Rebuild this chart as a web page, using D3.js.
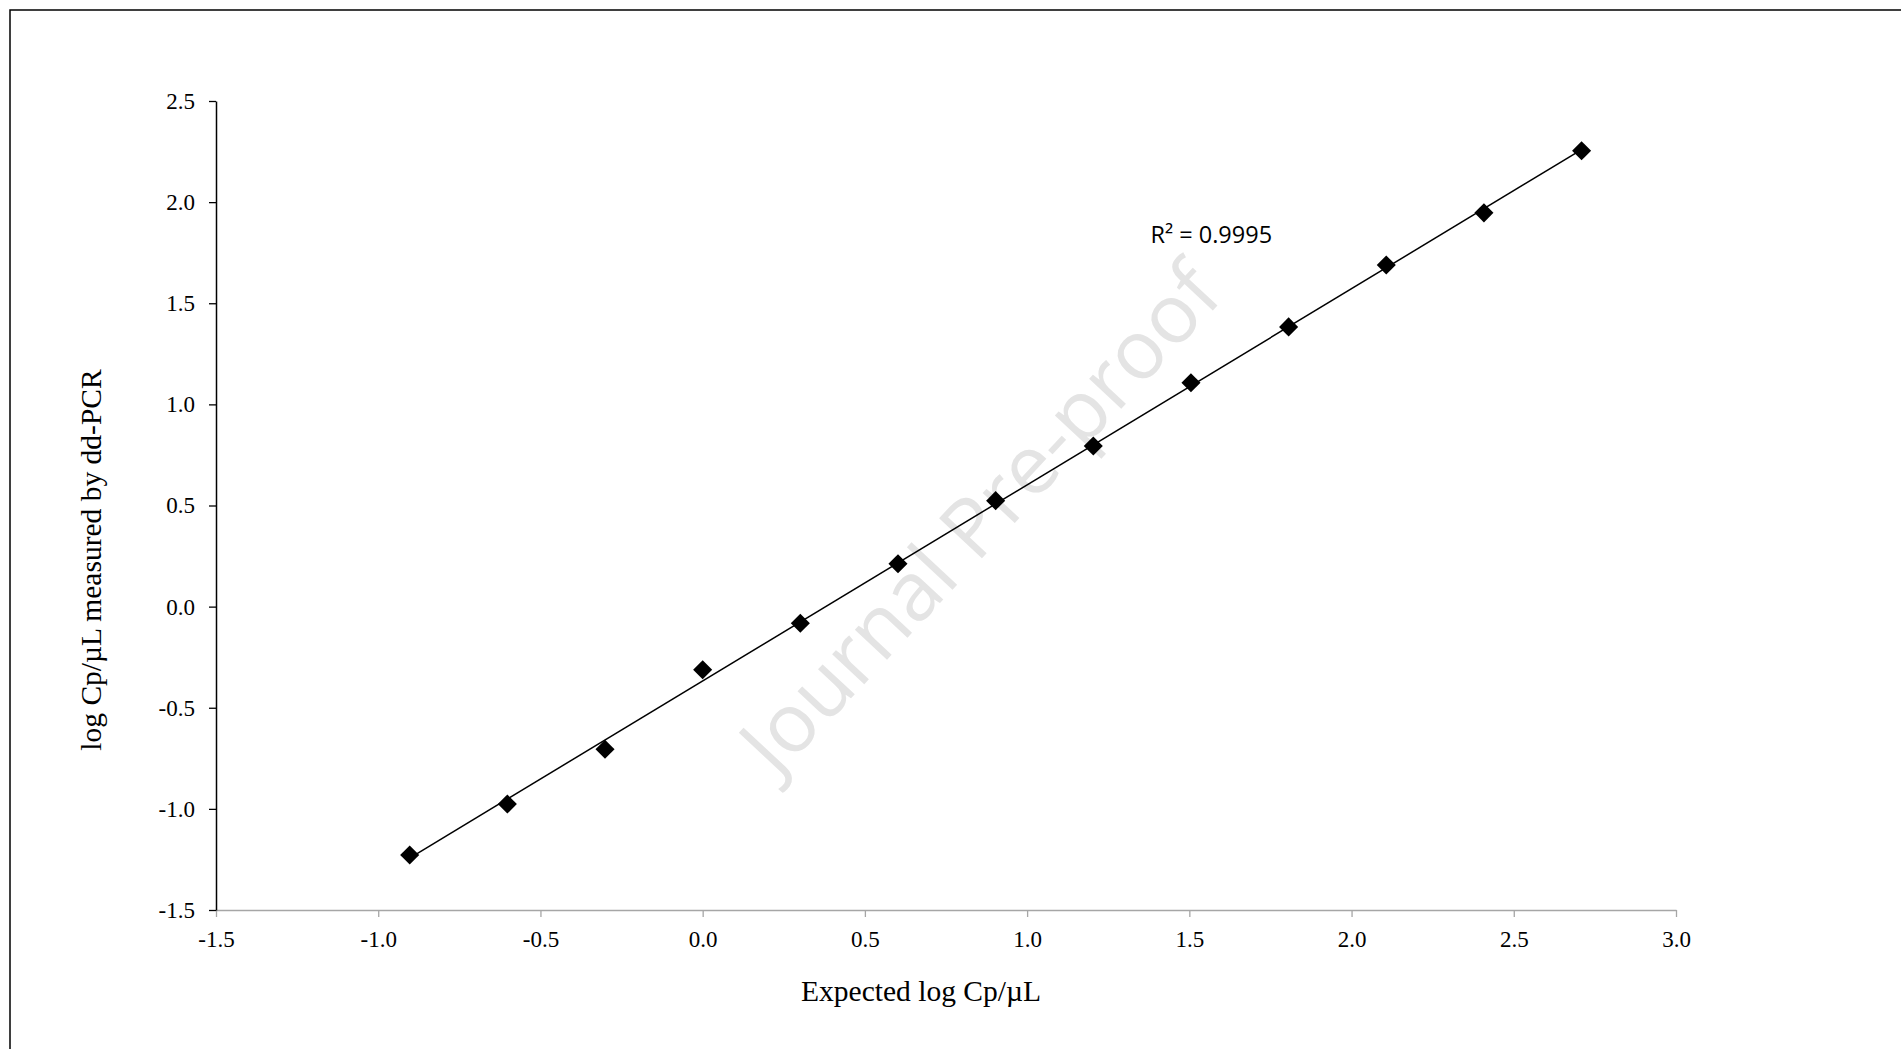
<!DOCTYPE html>
<html>
<head>
<meta charset="utf-8">
<script src="https://cdn.jsdelivr.net/npm/d3@7"></script>
<style>
    html, body { margin: 0; padding: 0; background: #fff; }
    svg { display: block; }
    .axis-title { font-family: "Liberation Serif", "Times New Roman", serif; font-size: 29.5px; fill: #000; }
    .r2 { font-family: "Open Sans", sans-serif; font-size: 23.5px; fill: #000; }
    .watermark { font-family: "Open Sans", sans-serif; font-size: 82px; fill: #e4e4e4; }
</style>
</head>
<body>
<div id="chart"></div>
<script>
// expected log copies per uL (2-fold dilution series)
var expected = [-0.903, -0.602, -0.301, 0.000, 0.301, 0.602, 0.903, 1.204, 1.505, 1.806, 2.107, 2.408, 2.709];
// log copies per uL measured by dd-PCR
var measured = [-1.228, -0.976, -0.705, -0.312, -0.082, 0.212, 0.524, 0.794, 1.107, 1.383, 1.689, 1.947, 2.254];

var xTicks = [-1.5, -1.0, -0.5, 0.0, 0.5, 1.0, 1.5, 2.0, 2.5, 3.0];
var yTicks = [-1.5, -1.0, -0.5, 0.0, 0.5, 1.0, 1.5, 2.0, 2.5];
var r2Label = 'R\u00B2 = 0.9995';

var width = 1901, height = 1049;
var margin = {left: 216, top: 101, right: 225, bottom: 139};
var w = width - margin.left - margin.right;
var h = height - margin.top - margin.bottom;
var serif = '"Liberation Serif", "Times New Roman", serif';

var svg = d3.select('#chart').append('svg')
    .attr('width', width)
    .attr('height', height);

// page frame (right/bottom edges fall outside the picture)
svg.append('rect')
    .attr('x', 10).attr('y', 10)
    .attr('width', width + 20).attr('height', height + 20)
    .attr('fill', 'none')
    .attr('stroke', '#000')
    .attr('stroke-width', 1.5);

// watermark
svg.append('text')
    .attr('class', 'watermark')
    .attr('text-anchor', 'middle')
    .attr('dy', '0.35em')
    .attr('transform', 'translate(980,518) rotate(-47)')
    .text('Journal Pre-proof');

var x = d3.scaleLinear().domain([-1.5, 3.0]).range([0, w]);
var y = d3.scaleLinear().domain([-1.5, 2.5]).range([h, 0]);
var fmt = function(d){ return d.toFixed(1); };

var g = svg.append('g')
    .attr('transform', 'translate(' + margin.left + ',' + margin.top + ')');

var xAxis = g.append('g')
    .attr('transform', 'translate(0,' + h + ')')
    .call(d3.axisBottom(x).tickValues(xTicks).tickFormat(fmt)
        .tickSize(7).tickSizeOuter(0).tickPadding(14));
xAxis.attr('font-family', serif).attr('font-size', 23);
xAxis.select('.domain').attr('stroke', '#a6a6a6').attr('stroke-width', 1.5);
xAxis.selectAll('.tick line').attr('stroke', '#a6a6a6').attr('stroke-width', 1.3);

var yAxis = g.append('g')
    .call(d3.axisLeft(y).tickValues(yTicks).tickFormat(fmt)
        .tickSize(7).tickSizeOuter(0).tickPadding(14));
yAxis.attr('font-family', serif).attr('font-size', 23);
yAxis.select('.domain').attr('stroke', '#000').attr('stroke-width', 1.5);
yAxis.selectAll('.tick line').attr('stroke', '#000').attr('stroke-width', 1.3);

// linear trendline from the points
var pts = expected.map(function(v, i){ return {x: v, y: measured[i]}; });
var mx = d3.mean(pts, function(d){ return d.x; });
var my = d3.mean(pts, function(d){ return d.y; });
var slope = d3.sum(pts, function(d){ return (d.x - mx) * (d.y - my); }) /
            d3.sum(pts, function(d){ return (d.x - mx) * (d.x - mx); });
var icpt = my - slope * mx;
var ext = d3.extent(expected);

g.append('path')
    .datum(ext.map(function(v){ return {x: v, y: icpt + slope * v}; }))
    .attr('fill', 'none')
    .attr('stroke', '#000')
    .attr('stroke-width', 1.5)
    .attr('d', d3.line().x(function(d){ return x(d.x); }).y(function(d){ return y(d.y); }));

g.selectAll('.pt')
    .data(pts)
    .enter().append('path')
        .attr('class', 'pt')
        .attr('d', d3.symbol().type(d3.symbolSquare).size(182))
        .attr('fill', '#000')
        .attr('transform', function(d){
            return 'translate(' + x(d.x) + ',' + y(d.y) + ') rotate(45)';
        });

g.append('text')
    .attr('class', 'r2')
    .attr('x', x(1.38)).attr('y', y(1.8))
    .text(r2Label);

// axis titles
svg.append('text')
    .attr('class', 'axis-title')
    .attr('text-anchor', 'middle')
    .attr('x', 921).attr('y', 1001)
    .text('Expected log Cp/\u00B5L');

svg.append('text')
    .attr('class', 'axis-title')
    .attr('text-anchor', 'middle')
    .attr('transform', 'translate(101,560) rotate(-90)')
    .text('log Cp/\u00B5L measured by dd-PCR');
</script>
</body>
</html>
